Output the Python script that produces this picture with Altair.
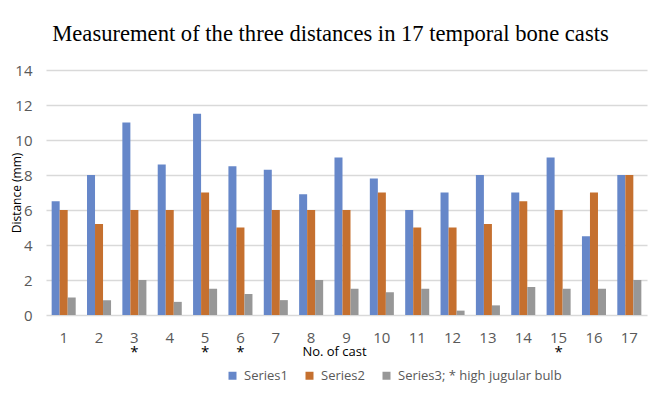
import altair as alt
import pandas as pd

casts = [str(i) for i in range(1, 18)]
series1 = [6.5, 8, 11, 8.6, 11.5, 8.5, 8.3, 6.9, 9, 7.8, 6, 7, 8, 7, 9, 4.5, 8]
series2 = [6, 5.2, 6, 6, 7, 5, 6, 6, 6, 7, 5, 5, 5.2, 6.5, 6, 7, 8]
series3 = [1, 0.85, 2, 0.75, 1.5, 1.2, 0.85, 2, 1.5, 1.3, 1.5, 0.25, 0.55, 1.6, 1.5, 1.5, 2]
series_names = ["Series1", "Series2", "Series3; * high jugular bulb"]
high_jugular = ["3", "5", "6", "15"]
colors = ["#6687C9", "#C5702F", "#979797"]

rows = []
for name, vals in zip(series_names, [series1, series2, series3]):
    for c, v in zip(casts, vals):
        rows.append({"cast": c, "series": name, "value": v})
df = pd.DataFrame(rows)
star_df = pd.DataFrame({"cast": high_jugular, "mark": ["*"] * len(high_jugular)})

W, H = 601, 245
font = "Open Sans"

x_scale = alt.Scale(domain=casts, paddingInner=0.32, paddingOuter=0.16)

bars = alt.Chart(df).mark_bar().encode(
    x=alt.X("cast:N", scale=x_scale, sort=casts,
            axis=alt.Axis(title="No. of cast", labelAngle=0, ticks=False, domain=False,
                          labelPadding=15, labelFontSize=15, labelColor="#595959",
                          labelFont=font, titleFont=font, titleFontSize=13,
                          titleFontWeight="normal", titleColor="#000000",
                          titleX=288, titleY=30)),
    xOffset=alt.XOffset("series:N", sort=series_names),
    y=alt.Y("value:Q", scale=alt.Scale(domain=[0, 14]),
            axis=alt.Axis(title="Distance (mm)", values=list(range(0, 15, 2)), ticks=False,
                          domain=False, labelPadding=14, labelFontSize=15,
                          labelColor="#595959", labelFont=font, titleFont=font,
                          titleFontSize=12, titleFontWeight="normal", titleColor="#000000",
                          gridColor="#d9d9d9", gridWidth=1.5, titleX=-23)),
    color=alt.Color("series:N", sort=series_names,
                    scale=alt.Scale(domain=series_names, range=colors),
                    legend=alt.Legend(title=None, orient="none", direction="horizontal",
                                      legendX=180, legendY=299, symbolType="square",
                                      symbolSize=64, symbolStrokeWidth=0,
                                      labelFontSize=13, labelFont=font, labelLimit=300,
                                      labelColor="#595959", columnPadding=15,
                                      labelOffset=5)),
)

stars = alt.Chart(star_df).mark_text(fontSize=15, font=font, color="#000000").encode(
    x=alt.X("cast:N", scale=x_scale, sort=casts),
    y=alt.value(H + 37),
    text="mark:N",
)

chart = alt.layer(bars, stars).properties(
    width=W, height=H,
    title=alt.TitleParams("Measurement of the three distances in 17 temporal bone casts",
                          font="Liberation Serif", fontSize=22.6, fontWeight="normal",
                          color="#000000", anchor="middle", dx=-16, offset=17),
    padding={"left": 38, "top": 62, "right": 14, "bottom": 70},
    autosize=alt.AutoSizeParams(type="none"),
).configure_view(stroke=None)

chart.save("out.html", embed_options={"renderer": "svg", "actions": False})
